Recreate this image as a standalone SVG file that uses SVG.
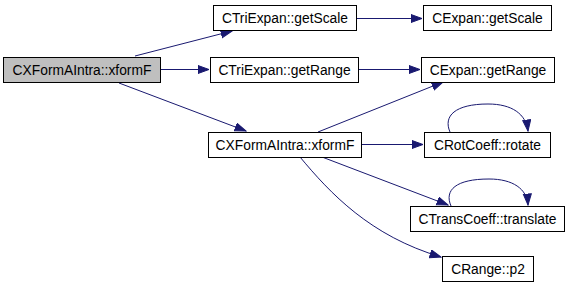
<svg xmlns="http://www.w3.org/2000/svg" width="571" height="288" viewBox="0 0 571 288">
  <style>
    .node rect { fill: #ffffff; stroke: #000000; stroke-width: 1; }
    .node.root rect { fill: #bfbfbf; }
    .node text { font-family: "Liberation Sans", Arial, sans-serif; font-size: 13.8px; text-anchor: middle; fill: #000000; }
    .edge { fill: none; stroke: #191970; stroke-width: 1; marker-end: url(#arrow); }
  </style>
  <defs>
    <marker id="arrow" markerUnits="userSpaceOnUse" markerWidth="13" markerHeight="10" refX="11.5" refY="4.5" orient="auto">
      <path d="M0.5,0.5 L11.5,4.5 L0.5,8.5 z" fill="#191970" stroke="#191970" stroke-width="1"/>
    </marker>
  </defs>

  <rect width="571" height="288" fill="#ffffff"/>

  <g id="connectors">
    <path class="edge" d="M135,56 L232,31"/>
    <path class="edge" d="M161,69.5 L209,69.5"/>
    <path class="edge" d="M119,83 L246,131"/>
    <path class="edge" d="M357,18.5 L422,18.5"/>
    <path class="edge" d="M359,69.5 L420,69.5"/>
    <path class="edge" d="M318,132 L443,82"/>
    <path class="edge" d="M362,144.5 L423,144.5"/>
    <path class="edge" d="M322,157 L448,205"/>
    <path class="edge" d="M300,157 C330,193 370,236 441,257"/>
    <path class="edge" d="M450,132 C443,116 455,104 488,104 C512,104 526,114 528,131"/>
    <path class="edge" d="M451,206 C444,190 456,179 489,179 C513,179 527,189 528,205"/>
  </g>

  <g id="node-root" class="node root">
    <rect x="3.5" y="57.5" width="157" height="25"/>
    <text x="82" y="74.8">CXFormAIntra::xformF</text>
  </g>
  <g id="node-tri-getscale" class="node">
    <rect x="213.5" y="5.5" width="143" height="25"/>
    <text x="285" y="22.8">CTriExpan::getScale</text>
  </g>
  <g id="node-expan-getscale" class="node">
    <rect x="423.5" y="5.5" width="128" height="25"/>
    <text x="487.5" y="22.8">CExpan::getScale</text>
  </g>
  <g id="node-tri-getrange" class="node">
    <rect x="210.5" y="57.5" width="148" height="25"/>
    <text x="284.5" y="74.8">CTriExpan::getRange</text>
  </g>
  <g id="node-expan-getrange" class="node">
    <rect x="421.5" y="57.5" width="133" height="25"/>
    <text x="488" y="74.8">CExpan::getRange</text>
  </g>
  <g id="node-xformf" class="node">
    <rect x="208.5" y="132.5" width="153" height="25"/>
    <text x="285" y="149.8">CXFormAIntra::xformF</text>
  </g>
  <g id="node-rotate" class="node">
    <rect x="424.5" y="132.5" width="126" height="25"/>
    <text x="487.5" y="149.8">CRotCoeff::rotate</text>
  </g>
  <g id="node-translate" class="node">
    <rect x="410.5" y="206.5" width="154" height="25"/>
    <text x="487.5" y="223.8">CTransCoeff::translate</text>
  </g>
  <g id="node-p2" class="node">
    <rect x="442.5" y="256.5" width="91" height="25"/>
    <text x="488" y="273.8">CRange::p2</text>
  </g>
</svg>
